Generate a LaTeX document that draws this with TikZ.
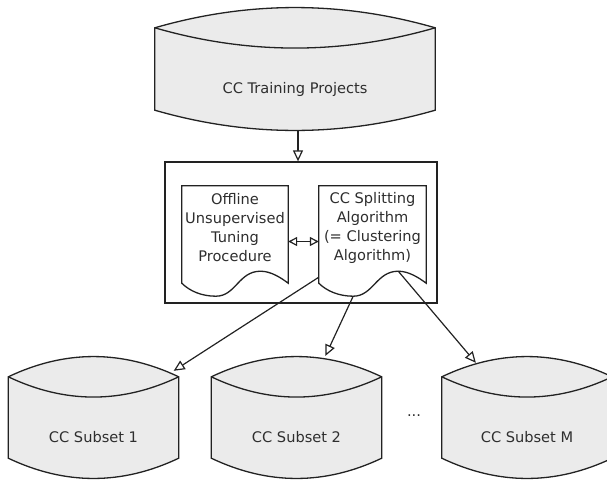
\documentclass[tikz,border=0pt]{standalone}
\usepackage{fontspec}
\setmainfont{DejaVu Sans}
\usetikzlibrary{arrows.meta,calc,backgrounds}

\definecolor{inkline}{HTML}{222222}
\definecolor{inktext}{HTML}{2E2E2E}
\definecolor{drumgray}{HTML}{EBEBEB}

\tikzset{
  every node/.style={font=\fontsize{14.6}{19}\selectfont, text=inktext},
  body/.style={minimum width=170pt, minimum height=81pt, inner sep=0pt},
  docbody/.style={minimum width=106pt, minimum height=83pt, inner sep=0pt, align=center},
  frame/.style={draw=inkline, line width=1.3pt, minimum width=272pt, minimum height=141pt, inner sep=0pt},
  drum/.style={draw=inkline, line width=1.3pt, fill=drumgray},
  drumrim/.style={draw=inkline, line width=1.3pt},
  sheet/.style={draw=inkline, line width=1.3pt, fill=white},
  flow/.style={draw=inkline, line width=1.2pt, -{Triangle[length=11pt,width=10pt,fill=white]}},
  swap/.style={draw=inkline, line width=1.2pt,
    {Triangle[length=9pt,width=9pt,fill=white]}-{Triangle[length=9pt,width=9pt,fill=white]}},
}

% Drum (storage) outline around a body node: lens-shaped top, curved bottom
\newcommand\drumshape[1]{%
  \path ($(#1.north west)+(0,-20)$) coordinate (#1-tl)
        ($(#1.north east)+(0,-20)$) coordinate (#1-tr)
        ($(#1.south east)+(0,-20)$) coordinate (#1-br)
        ($(#1.south west)+(0,-20)$) coordinate (#1-bl);
  \path[drum] (#1-tl)
     .. controls ($(#1-tl)!1/3!(#1-tr)+(0,-27)$) and ($(#1-tl)!2/3!(#1-tr)+(0,-27)$) .. (#1-tr)
     -- (#1-br)
     .. controls ($(#1-bl)!2/3!(#1-br)+(0,27)$) and ($(#1-bl)!1/3!(#1-br)+(0,27)$) .. (#1-bl)
     -- cycle;
  \path[drumrim] (#1-tl)
     .. controls ($(#1-tl)!1/3!(#1-tr)+(0,27)$) and ($(#1-tl)!2/3!(#1-tr)+(0,27)$) .. (#1-tr);
}

% Document outline around a body node: flat top, wavy bottom edge
\newcommand\sheetshape[1]{%
  \path ($(#1.south west)+(0,14)$) coordinate (#1-bl)
        ($(#1.south east)+(0,14)$) coordinate (#1-br)
        ($(#1-bl)!0.32!(#1-br)+(0,13)$) coordinate (#1-trough)
        ($(#1-bl)!0.74!(#1-br)+(0,-12)$) coordinate (#1-crest);
  \path[sheet] (#1.north west) -- (#1.north east) -- (#1-br)
     .. controls +(-8,-6) and +(10,0) .. (#1-crest)
     .. controls +(-22,0) and +(20,0) .. (#1-trough)
     .. controls +(-14,0) and +(8,8) .. (#1-bl) -- cycle;
}

\begin{document}
\begin{tikzpicture}[x=1pt,y=-1pt]
\useasboundingbox (0,0) rectangle (607,480);

% text bodies
\node[body, minimum width=280pt, minimum height=82pt] (train) at (295,89) {CC Training Projects};
\node[frame] (proc) at (301,232.5) {};
\node[docbody] (tune) at (235,227.5) {Offline\\Unsupervised\\Tuning\\Procedure};
\node[docbody, minimum width=107pt] (split) at (372.5,227.5) {CC Splitting\\Algorithm\\(= Clustering\\Algorithm)};
\node[body] (s1) at (93.5,437.5) {CC Subset 1};
\node[body] (s2) at (296.5,437.5) {CC Subset 2};
\node[body] (sM) at (527,437.5) {CC Subset M};
\node (more) at (414,416) {...};

% outlines behind the text
\begin{scope}[on background layer]
  \drumshape{train}
  \drumshape{s1}
  \drumshape{s2}
  \drumshape{sM}
  \sheetshape{tune}
  \sheetshape{split}
\end{scope}

% connector end points
\coordinate (train-out) at ($(train.south)+(3,0)$);
\coordinate (proc-in) at ($(proc.north)+(-3,0)$);
\coordinate (split-side) at ($(split-bl)+(0,-6)$);
\coordinate (s1-in) at ($(s1-tr)+(-5,-6)$);
\coordinate (s2-in) at ($(s2-tl)!0.67!(s2-tr)+(0,-21)$);
\coordinate (sM-in) at ($(sM-tl)!0.2!(sM-tr)+(0,-14)$);

% connectors
\draw[flow] (train-out) -- (proc-in);
\draw[swap] ([yshift=-14pt]tune.east) -- ([yshift=-14pt]split.west);
\draw[flow] (split-side) -- (s1-in);
\draw[flow] (split-trough) -- (s2-in);
\draw[flow] (split-crest) -- (sM-in);
\end{tikzpicture}
\end{document}
